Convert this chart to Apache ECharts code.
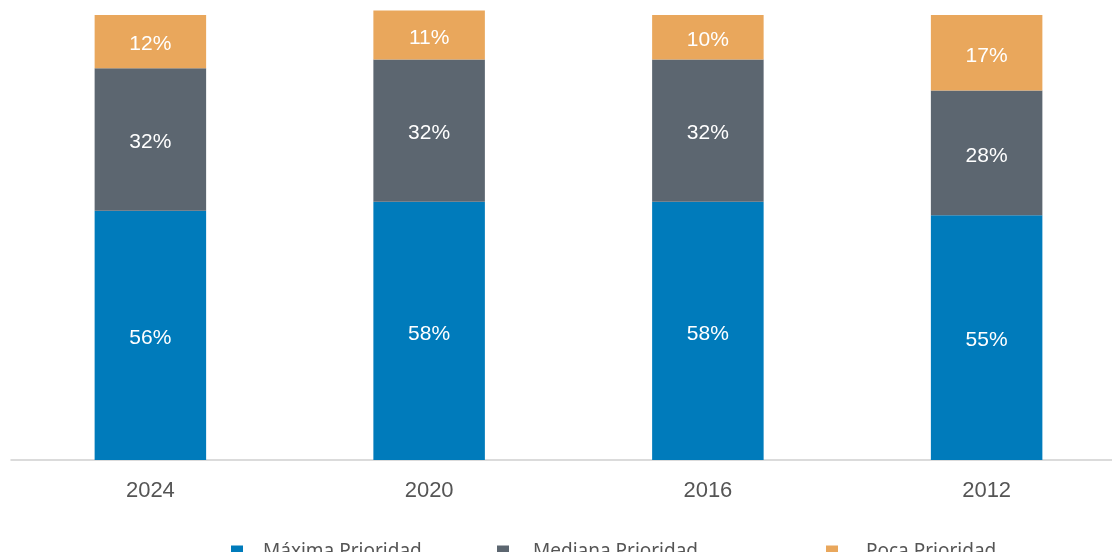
<!DOCTYPE html>
<html>
<head>
<meta charset="utf-8">
<script src="https://cdn.jsdelivr.net/npm/echarts@6/dist/echarts.min.js"></script>
<style>
  html, body { margin: 0; padding: 0; background: #ffffff; }
  #chart { width: 1112px; height: 552px; }
</style>
</head>
<body>
<div id="chart"></div>
<script>
// Prioridad por año (porcentaje de respuestas)
const years = ['2024', '2020', '2016', '2012'];
const maxima = [56, 58, 58, 55];
const mediana = [32, 32, 32, 28];
const poca = [12, 11, 10, 17];
const seriesNames = ['Máxima Prioridad', 'Mediana Prioridad', 'Poca Prioridad'];
const colors = ['#007bbb', '#5c6670', '#e9a75c'];

const chart = echarts.init(document.getElementById('chart'));

const labelStyle = {
  show: true,
  position: 'inside',
  offset: [0, 3],
  color: '#ffffff',
  fontFamily: 'Liberation Sans, Arial, sans-serif',
  fontSize: 21,
  formatter: p => p.value + '%'
};

function barSeries(name, data, color) {
  return {
    name: name,
    type: 'bar',
    stack: 'total',
    data: data,
    barWidth: '40%',
    itemStyle: { color: color },
    label: labelStyle,
    emphasis: { disabled: true }
  };
}

function legendAt(name, left, textPad) {
  return {
    data: [name],
    left: left,
    top: 537,
    itemWidth: 12,
    itemHeight: 12,
    icon: 'rect',
    selectedMode: false,
    textStyle: {
      color: '#555555',
      fontFamily: 'Noto Sans, sans-serif',
      fontSize: 19,
      padding: [2, 0, 0, textPad]
    }
  };
}

chart.setOption({
  animation: false,
  color: colors,
  legend: [
    legendAt(seriesNames[0], 226, 15),
    legendAt(seriesNames[1], 492, 19),
    legendAt(seriesNames[2], 821, 23)
  ],
  // plot area runs a little past the right edge of the page
  grid: {
    left: 11, width: 1115, top: 10.5, height: 449.5,
    containLabel: false,
    outerBoundsMode: 'none'
  },
  xAxis: {
    type: 'category',
    data: years,
    axisLine: { show: true, lineStyle: { color: '#d0d0d0', width: 1.5 } },
    axisTick: { show: false },
    axisLabel: {
      color: '#555555',
      fontFamily: 'Liberation Sans, Arial, sans-serif',
      fontSize: 22,
      margin: 20
    }
  },
  yAxis: {
    type: 'value',
    min: 0,
    max: 101,
    show: false,
    splitLine: { show: false }
  },
  series: [
    barSeries(seriesNames[0], maxima, colors[0]),
    barSeries(seriesNames[1], mediana, colors[1]),
    barSeries(seriesNames[2], poca, colors[2])
  ]
});
</script>
</body>
</html>
